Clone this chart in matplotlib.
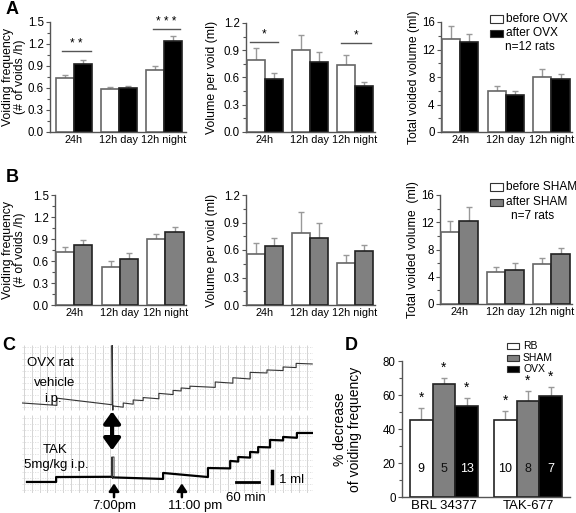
import numpy as np
import matplotlib.pyplot as plt
from matplotlib.ticker import AutoMinorLocator
from matplotlib.patches import Rectangle

plt.rcParams['font.family'] = ['Liberation Sans', 'DejaVu Sans']

periodos = ['24h', '12h day', '12h night']

# A - antes / depois da OVX
ovx_freq_antes = [0.74, 0.59, 0.85]
ovx_freq_antes_err = [0.04, 0.03, 0.05]
ovx_freq_depois = [0.93, 0.60, 1.24]
ovx_freq_depois_err = [0.05, 0.03, 0.07]
ovx_vol_antes = [0.79, 0.90, 0.74]
ovx_vol_antes_err = [0.13, 0.17, 0.11]
ovx_vol_depois = [0.58, 0.77, 0.51]
ovx_vol_depois_err = [0.07, 0.11, 0.04]
ovx_total_antes = [13.5, 5.9, 8.0]
ovx_total_antes_err = [1.9, 0.8, 1.2]
ovx_total_depois = [13.1, 5.4, 7.7]
ovx_total_depois_err = [1.2, 0.6, 0.7]

# B - antes / depois do SHAM
sham_freq_antes = [0.72, 0.52, 0.90]
sham_freq_antes_err = [0.07, 0.08, 0.07]
sham_freq_depois = [0.82, 0.63, 0.99]
sham_freq_depois_err = [0.07, 0.08, 0.08]
sham_vol_antes = [0.56, 0.79, 0.46]
sham_vol_antes_err = [0.12, 0.22, 0.09]
sham_vol_depois = [0.64, 0.73, 0.59]
sham_vol_depois_err = [0.09, 0.16, 0.06]
sham_total_antes = [10.5, 4.7, 5.8]
sham_total_antes_err = [1.7, 0.8, 0.9]
sham_total_depois = [12.2, 5.0, 7.3]
sham_total_depois_err = [2.0, 1.0, 0.9]

# C - registro (tempo em min, volume em ml)
veiculo_t = [0, 91, 91, 235, 235, 237, 237, 264, 264, 290, 290, 316, 316, 357, 357,
             394, 394, 415, 415, 438, 438, 504, 504, 550, 550, 595, 595, 639, 639,
             681, 681, 715, 715, 757]
veiculo_v = [7.5, 7.3, 7.9, 7.35, 12.3, 6.9, 7.25, 7.15, 7.5, 7.4, 7.75, 7.7, 7.95,
             7.85, 8.3, 8.2, 8.55, 8.5, 8.75, 8.7, 8.9, 8.8, 9.25, 9.15, 9.6, 9.5,
             10.05, 10.0, 10.25, 10.2, 10.5, 10.45, 10.8, 10.75]
tak_t = [13, 89, 89, 236, 236, 368, 368, 485, 485, 543, 543, 564, 564, 595, 595,
         616, 616, 647, 647, 681, 681, 717, 717, 757]
tak_v = [0.92, 0.92, 1.33, 1.35, 1.3, 1.17, 1.67, 1.33, 2.08, 2.05, 2.67, 2.62, 3.0,
         2.95, 3.42, 3.38, 3.83, 3.8, 4.42, 4.38, 4.67, 4.6, 5.0, 5.0]
tak_pico_t = [234, 234, 236, 236, 240, 240]
tak_pico_v = [1.35, 3.0, 1.2, 3.0, 3.0, 1.3]
hora_19 = 240
hora_23 = 417

# D - % de queda da frequencia
drogas = ['BRL 34377', 'TAK-677']
grupos = ['RB', 'SHAM', 'OVX']
queda_rb = [45.5, 45.1]
queda_rb_err = [6.9, 5.5]
queda_sham = [66.7, 56.7]
queda_sham_err = [3.5, 5.8]
queda_ovx = [53.3, 59.4]
queda_ovx_err = [5.1, 5.1]
n_rb = [9, 10]
n_sham = [5, 8]
n_ovx = [13, 7]

W, H = 576, 513
fig = plt.figure(figsize=(W / 100, H / 100), dpi=100)


def caixa(esq, topo, dir, base):
    return [esq / W, 1 - base / H, (dir - esq) / W, (base - topo) / H]


def eixos(ax, ymax, ypasso):
    for lado in ['top', 'right']:
        ax.spines[lado].set_visible(False)
    for lado in ['left', 'bottom']:
        ax.spines[lado].set_color('#555555')
        ax.spines[lado].set_linewidth(1)
    ax.set_ylim(0, ymax)
    ax.set_yticks(np.arange(0, ymax + ypasso / 2, ypasso))
    ax.yaxis.set_minor_locator(AutoMinorLocator(2))
    ax.tick_params(axis='y', which='major', direction='out', length=3, width=0.8,
                   color='#555555', labelsize=8.3, pad=1.5)
    ax.tick_params(axis='y', which='minor', direction='out', length=2, width=0.8,
                   color='#555555')
    ax.tick_params(axis='x', length=0, labelsize=7.8, pad=2.5)


def Painel(rect, antes, antes_err, depois, depois_err, cor, ymax, ypasso, fmt,
           rotulo, xlab, xlim=(-0.42, 2.45)):
    ax = fig.add_axes(caixa(*rect))
    x = np.arange(len(periodos))
    w = 0.4
    zeros = np.zeros(len(x))
    ax.errorbar(x - w / 2, antes, yerr=[zeros, antes_err], fmt='none',
                ecolor='#999999', elinewidth=1, capsize=2, capthick=1)
    ax.errorbar(x + w / 2, depois, yerr=[zeros, depois_err], fmt='none',
                ecolor='#999999', elinewidth=1, capsize=2, capthick=1)
    ax.bar(x - w / 2, antes, w, color='white', edgecolor='#666666', lw=1.2, zorder=3)
    ax.bar(x + w / 2, depois, w, color=cor, edgecolor='#222222', lw=1.2, zorder=3)
    eixos(ax, ymax, ypasso)
    ax.yaxis.set_major_formatter(fmt)
    ax.set_xlim(*xlim)
    ax.set_xticks(x)
    ax.set_xticklabels(periodos)
    ax.set_ylabel(rotulo, fontsize=8.8, linespacing=1.0)
    ax.yaxis.set_label_coords(xlab, 0.5)
    return ax


def signif(ax, x0, x1, y, ys, txt):
    ax.plot([x0, x1], [y, y], color='#555555', lw=1, clip_on=False)
    ax.text((x0 + x1) / 2, ys, txt, ha='center', va='center', fontsize=8.5,
            clip_on=False)


def legenda(px, linhas, cores, extra, extra_x):
    for (py, txt), cor in zip(linhas, cores):
        fig.patches.append(Rectangle((px / W, 1 - (py + 3.5) / H), 13 / W, 7 / H,
                                     transform=fig.transFigure, facecolor=cor,
                                     edgecolor='#333333', lw=0.8))
        fig.text((px + 16) / W, 1 - py / H, txt, fontsize=8.6, va='center')
    fig.text(extra_x / W, 1 - extra[0] / H, extra[1], fontsize=8.6, va='center')


f1 = '{x:.1f}'
f0 = '{x:.0f}'

# --- A
a1 = Painel((50, 22, 186, 132), ovx_freq_antes, ovx_freq_antes_err, ovx_freq_depois,
            ovx_freq_depois_err, 'black', 1.5, 0.3, f1,
            'Voiding frequency\n(# of voids /h)', -0.18, xlim=(-0.53, 2.49))
signif(a1, -0.27, 0.38, 1.10, 1.20, '* *')
signif(a1, 1.76, 2.35, 1.40, 1.50, '* * *')
a2 = Painel((246, 23, 375, 132), ovx_vol_antes, ovx_vol_antes_err, ovx_vol_depois,
            ovx_vol_depois_err, 'black', 1.2, 0.3, f1,
            'Volume per void (ml)', -0.22)
signif(a2, -0.33, 0.3, 0.99, 1.07, '*')
signif(a2, 1.7, 2.35, 0.98, 1.06, '*')
a3 = Painel((441, 22, 572, 132), ovx_total_antes, ovx_total_antes_err,
            ovx_total_depois, ovx_total_depois_err, 'black', 16, 4, f0,
            'Total voided volume (ml)', -0.16)
legenda(490, [(19, 'before OVX'), (33, 'after OVX')], ['white', 'black'],
        (47, 'n=12 rats'), 505)

# --- B
Painel((55, 195, 186, 305), sham_freq_antes, sham_freq_antes_err, sham_freq_depois,
       sham_freq_depois_err, '#808080', 1.5, 0.3, f1,
       'Voiding frequency\n(# of voids /h)', -0.22)
Painel((246, 195, 375, 305), sham_vol_antes, sham_vol_antes_err, sham_vol_depois,
       sham_vol_depois_err, '#808080', 1.2, 0.3, f1,
       'Volume per void (ml)', -0.22)
Painel((440, 195, 572, 304), sham_total_antes, sham_total_antes_err,
       sham_total_depois, sham_total_depois_err, '#808080', 16, 4, f0,
       'Total voided volume  (ml)', -0.16)
legenda(490, [(187, 'before SHAM'), (202, 'after SHAM')], ['white', '#808080'],
        (216, 'n=7 rats'), 511)

# --- C
ax_c = fig.add_axes(caixa(22, 345, 313, 493))
ax_c.set_xlim(0, 759)
ax_c.set_ylim(0, 12.33)
ax_c.axis('off')
grade_x = np.arange(5, 759, 20.5)
ax_c.vlines(grade_x, 0, 6.5, color='#d4d4d4', lw=0.7)
ax_c.vlines(grade_x, 6.9, 12.33, color='#d4d4d4', lw=0.7)
grade_y = np.concatenate([np.arange(0.25, 6.5, 0.5), np.arange(7.15, 12.33, 0.5)])
ax_c.hlines(grade_y, 0, 759, color='#dddddd', lw=0.6, linestyles=(0, (1.5, 1.5)))
ax_c.plot(veiculo_t, veiculo_v, color='#333333', lw=0.8)
ax_c.plot(tak_t, tak_v, color='black', lw=1.6)
ax_c.plot(tak_pico_t, tak_pico_v, color='#333333', lw=0.7)
ax_c.annotate('', xy=(hora_19 - 5, 3.55), xytext=(hora_19 - 5, 6.8),
              arrowprops=dict(arrowstyle='<|-|>,head_width=0.5,head_length=0.7',
                              lw=3, color='black', shrinkA=0, shrinkB=0))
for t in [hora_19, hora_23]:
    ax_c.annotate('', xy=(t, 0.8), xytext=(t, -0.35), annotation_clip=False,
                  arrowprops=dict(arrowstyle='-|>,head_width=0.3,head_length=0.45',
                                  lw=1.8, color='black', shrinkA=0, shrinkB=0))
ax_c.plot([558, 618], [0.92, 0.92], color='black', lw=2, clip_on=False)
ax_c.plot([651, 651], [0.83, 1.83], color='black', lw=2.5, clip_on=False)
ax_c.text(13, 10.83, 'OVX rat', fontsize=9.5, va='center')
ax_c.text(84, 9.17, 'vehicle', fontsize=9.5, ha='center', va='center')
ax_c.text(80, 7.85, 'i.p.', fontsize=9.5, ha='center', va='center')
ax_c.text(86, 3.6, 'TAK', fontsize=9.5, ha='center', va='center')
ax_c.text(89, 2.35, '5mg/kg i.p.', fontsize=9.5, ha='center', va='center')
ax_c.text(hora_19, -1.1, '7:00pm', fontsize=9.5, ha='center', va='center',
          clip_on=False)
ax_c.text(451, -1.1, '11:00 pm', fontsize=9.5, ha='center', va='center',
          clip_on=False)
ax_c.text(584, -0.45, '60 min', fontsize=9.5, ha='center', va='center',
          clip_on=False)
ax_c.text(670, 1.08, '1 ml', fontsize=9.5, va='center')

# --- D
ax_d = fig.add_axes(caixa(402, 361, 570, 497))
xd = np.arange(len(drogas))
wd = 0.27
series_d = [(queda_rb, queda_rb_err, n_rb, 'white', 'black'),
            (queda_sham, queda_sham_err, n_sham, '#808080', '#111111'),
            (queda_ovx, queda_ovx_err, n_ovx, 'black', 'white')]
for i, (val, err, n, cor, cor_txt) in enumerate(series_d):
    pos = xd + (i - 1) * wd
    ax_d.errorbar(pos, val, yerr=[np.zeros(2), err], fmt='none', ecolor='#999999',
                  elinewidth=1, capsize=2, capthick=1)
    ax_d.bar(pos, val, wd, color=cor, edgecolor='#222222', lw=1.2, zorder=3)
    for p, v, e, k in zip(pos, val, err, n):
        ax_d.text(p, v + e + 6, '*', ha='center', va='center', fontsize=10)
        ax_d.text(p, 16.5, str(k), ha='center', va='center', fontsize=9,
                  color=cor_txt, zorder=4)
eixos(ax_d, 80, 20)
ax_d.set_xlim(-0.5, 1.5)
ax_d.set_xticks(xd)
ax_d.set_xticklabels(drogas, fontsize=9.5)
ax_d.set_ylabel('% decrease\nof voiding frequency', fontsize=10, linespacing=1.1)
ax_d.yaxis.set_label_coords(-0.24, 0.5)
for py, txt, cor in [(346, grupos[0], 'white'), (358, grupos[1], '#808080'),
                     (369, grupos[2], 'black')]:
    fig.patches.append(Rectangle((507 / W, 1 - (py + 3) / H), 12 / W, 6 / H,
                                 transform=fig.transFigure, facecolor=cor,
                                 edgecolor='#333333', lw=0.8))
    fig.text(523 / W, 1 - py / H, txt, fontsize=7.5, va='center')

# letras dos paineis
for letra, px, py in [('A', 12, 10), ('B', 12, 178), ('C', 9, 345), ('D', 351, 346)]:
    fig.text(px / W, 1 - py / H, letra, fontsize=13, fontweight='bold',
             ha='center', va='center')

fig.savefig('out.png', dpi=100)
